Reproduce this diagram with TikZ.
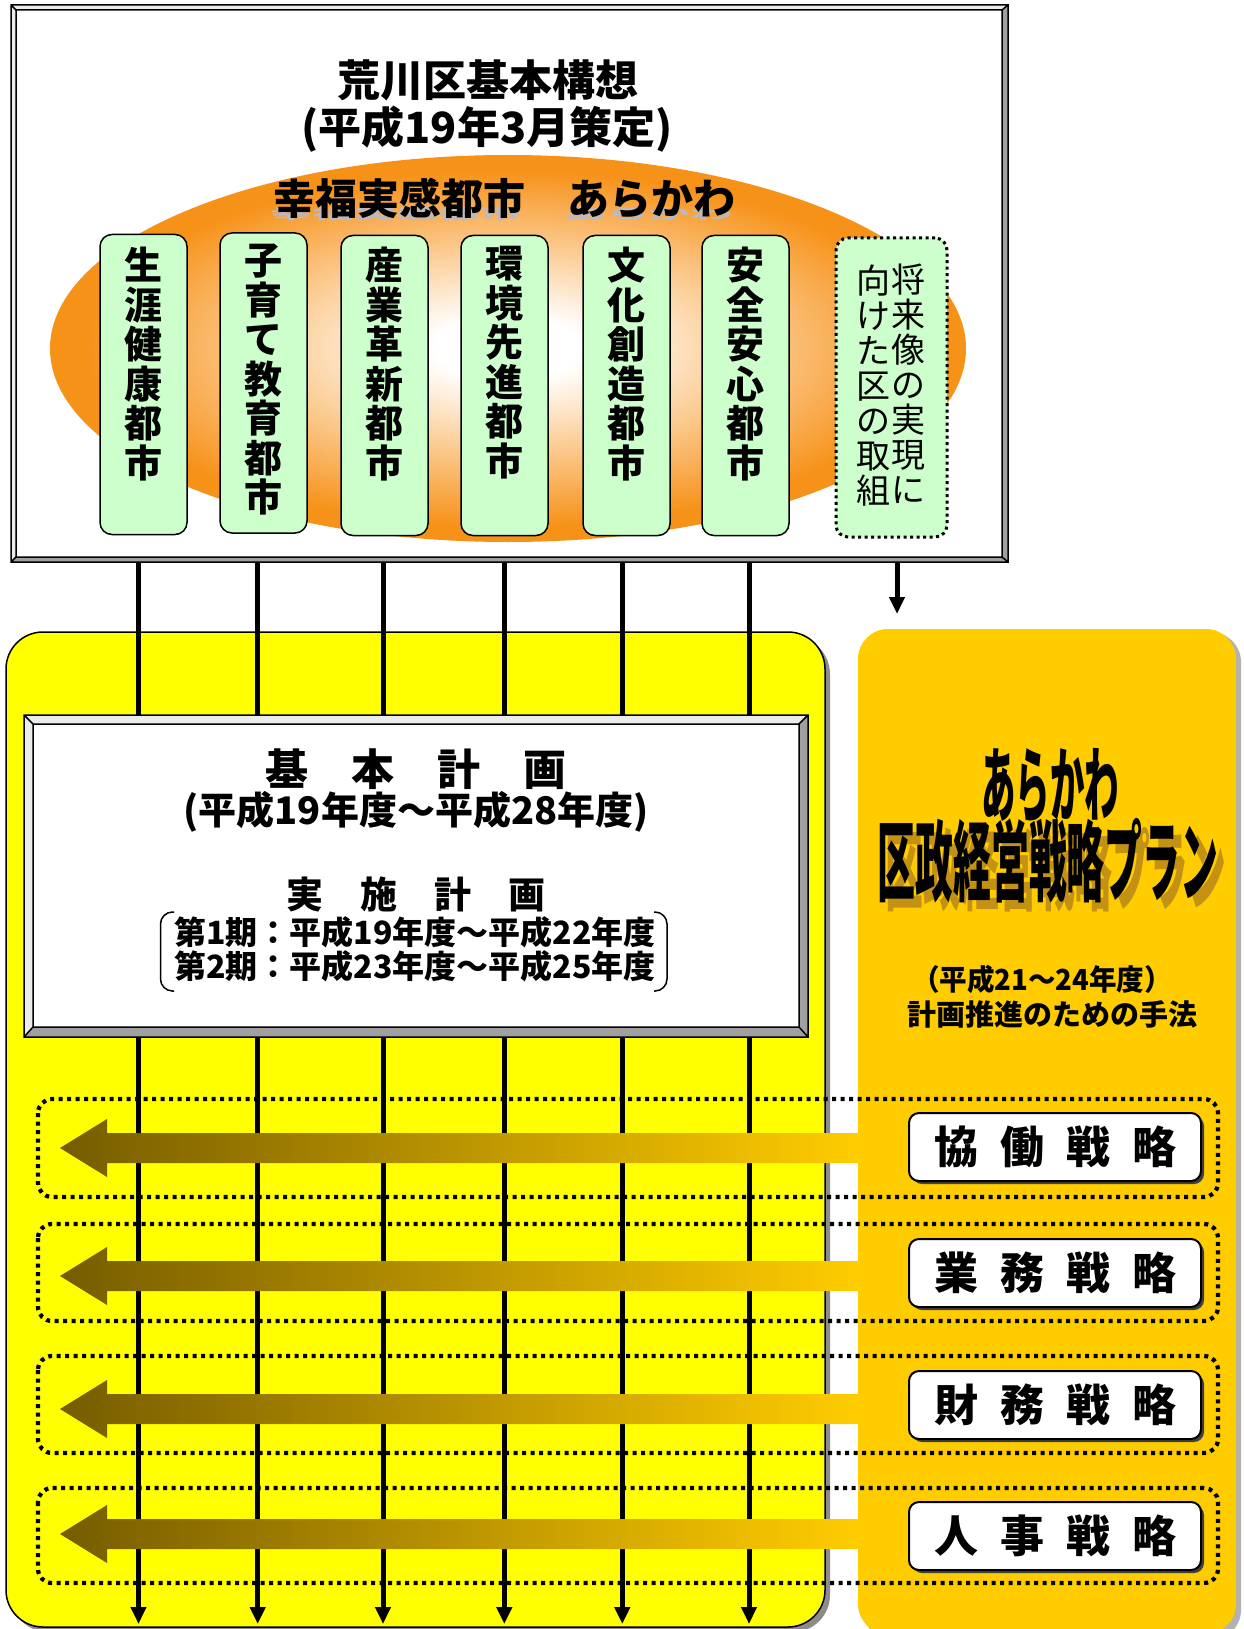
\documentclass[tikz,border=0pt]{standalone}
\usepackage{fontspec}
\newfontfamily\jp{Noto Sans CJK JP}
\usetikzlibrary{arrows.meta}
\definecolor{ora}{RGB}{247,146,25}
\definecolor{grn}{RGB}{204,255,204}
\definecolor{yel}{RGB}{255,255,0}
\definecolor{gold}{RGB}{255,204,0}
\definecolor{darkol}{RGB}{118,92,0}
\definecolor{bevdark}{RGB}{160,160,160}
\definecolor{bevlight}{RGB}{235,235,235}
\definecolor{brshadow}{RGB}{195,145,20}
\definecolor{tshadow}{RGB}{190,185,190}
\pgfdeclareradialshading{ellsh}{\pgfpoint{0bp}{0bp}}{color(0bp)=(white); color(4bp)=(white); color(23bp)=(ora); color(50bp)=(ora)}
\newcommand\bevelbox[8]{%
  \fill[bevlight] (#1,#4) -- (#1,#2) -- (#3,#2) -- (#7,#6) -- (#5,#6) -- (#5,#8) -- cycle;
  \fill[bevdark] (#3,#2) -- (#3,#4) -- (#1,#4) -- (#5,#8) -- (#7,#8) -- (#7,#6) -- cycle;
  \fill[white] (#5,#6) rectangle (#7,#8);
  \draw[line width=1.5pt] (#1,#2) rectangle (#3,#4) (#5,#6) rectangle (#7,#8)
     (#1,#2) -- (#5,#6) (#3,#2) -- (#7,#6) (#3,#4) -- (#7,#8) (#1,#4) -- (#5,#8);
}
\newcommand\garrow[1]{%
  \shade[left color=darkol, right color=gold]
   (858,{#1-15}) -- (107,{#1-15}) -- (107,{#1-29}) -- (60,#1) -- (107,{#1+29}) -- (107,{#1+15}) -- (858,{#1+15}) -- cycle;
}
\begin{document}
\begin{tikzpicture}[x=1pt,y=-1pt,
  gbox/.style={draw, line width=1.5pt, fill=grn, rounded corners=12pt, minimum width=87pt, minimum height=300pt, inner sep=0pt},
  vtxt/.style={align=center, inner sep=0pt, anchor=north, font=\jp\bfseries\fontsize{38}{39.5}\selectfont},
  vtxtr/.style={align=center, inner sep=0pt, font=\jp\fontsize{34}{35}\selectfont},
  vline/.style={line width=5pt, -{Triangle[length=17pt,width=15pt]}},
  dotrow/.style={line width=4.2pt, dash pattern=on 4pt off 4.5pt, rounded corners=14pt},
  lbl/.style={draw, line width=2pt, fill=white, rounded corners=10pt, minimum width=292pt, minimum height=68pt, inner sep=0pt, font=\jp\bfseries\fontsize{44}{50}\selectfont},
  txt/.style={inner sep=0pt}
]
\useasboundingbox (0,0) rectangle (1243,1629);
\fill[white] (0,0) rectangle (1243,1629);

% ---- lower areas
\fill[black!45, rounded corners=37pt] (11,637) rectangle (830,1632);
\node[draw, line width=1.5pt, fill=yel, rounded corners=37pt, minimum width=819pt, minimum height=995pt, inner sep=0pt] (yarea) at (415.5,1129.5) {};
\fill[black!30, rounded corners=30pt] (863,632) rectangle (1241,1640);
\node[fill=gold, rounded corners=30pt, minimum width=378pt, minimum height=1005pt, inner sep=0pt] (oarea) at (1047,1131.5) {};

% ---- vertical connectors
\coordinate (s1) at (138.5,562); \coordinate (e1) at (138.5,1624);
\coordinate (s2) at (257.7,562); \coordinate (e2) at (257.7,1624);
\coordinate (s3) at (383,562);   \coordinate (e3) at (383,1624);
\coordinate (s4) at (504.3,562); \coordinate (e4) at (504.3,1624);
\coordinate (s5) at (622.3,562); \coordinate (e5) at (622.3,1624);
\coordinate (s6) at (749,562);   \coordinate (e6) at (749,1624);
\coordinate (s7) at (897,562);   \coordinate (e7) at (897,614);
\foreach \i in {1,...,7} {\draw[vline] (s\i) -- (e\i);}

% ---- top frame
\bevelbox{11}{5}{1008}{562}{16}{10}{1002}{557}
\shade[shading=ellsh] (508,348.5) ellipse [x radius=458pt, y radius=193.5pt];

\node[txt, font=\jp\bfseries\fontsize{43}{48}\selectfont] (t1) at (488,80) {荒川区基本構想};
\node[txt, font=\jp\bfseries\fontsize{43}{48}\selectfont] (t2) at (487,129) {(平成19年3月策定)};
\node[txt, text=tshadow, font=\jp\bfseries\fontsize{42}{48}\selectfont] (t3s) at (501,214) {\scalebox{1}[0.35]{幸福実感都市　あらかわ}};
\node[txt, font=\jp\bfseries\fontsize{42}{48}\selectfont] (t3) at (504,198) {幸福実感都市　あらかわ};

\node[gbox] (g1) at (143.5,384.5) {};
\node[gbox] (g2) at (263.5,383) {};
\node[gbox] (g3) at (384.5,385.5) {};
\node[gbox] (g4) at (504.5,385.5) {};
\node[gbox] (g5) at (626.5,385.5) {};
\node[gbox] (g6) at (745.5,385.5) {};
\node[gbox, dash pattern=on 3pt off 3.5pt, line width=3pt, minimum width=111pt, minimum height=299pt] (g7) at (891.5,387.5) {};

\node[vtxt] (v1) at (143.5,247) {生\\涯\\健\\康\\都\\市};
\node[vtxt] (v2) at (263.5,244) {子\\育\\て\\教\\育\\都\\市};
\node[vtxt] (v3) at (384.5,247) {産\\業\\革\\新\\都\\市};
\node[vtxt] (v4) at (504.5,246) {環\\境\\先\\進\\都\\市};
\node[vtxt] (v5) at (626.5,247) {文\\化\\創\\造\\都\\市};
\node[vtxt] (v6) at (745.5,247) {安\\全\\安\\心\\都\\市};
\node[vtxtr] (v7a) at (908,384) {将\\来\\像\\の\\実\\現\\に};
\node[vtxtr] (v7b) at (873,386) {向\\け\\た\\区\\の\\取\\組};

% ---- basic plan box
\bevelbox{24}{715}{808}{1037}{33}{724}{799}{1027}
\node[txt, font=\jp\bfseries\fontsize{43}{48}\selectfont] (p1) at (416,769) {基　本　計　画};
\node[txt, font=\jp\bfseries\fontsize{38}{42}\selectfont] (p2) at (416,812) {(平成19年度～平成28年度)};
\node[txt, font=\jp\bfseries\fontsize{37}{42}\selectfont] (p3) at (416,894) {実　施　計　画};
\node[txt, font=\jp\bfseries\fontsize{32}{36}\selectfont] (p4) at (415,932) {第1期：平成19年度～平成22年度};
\node[txt, font=\jp\bfseries\fontsize{32}{36}\selectfont] (p5) at (415,966) {第2期：平成23年度～平成25年度};
\draw[line width=1.5pt, rounded corners=12pt] (174,912) -- (160.5,912) -- (160.5,991) -- (174,991);
\draw[line width=1.5pt, rounded corners=12pt] (654,912) -- (667,912) -- (667,991) -- (654,991);

% ---- strategy arrows and rows
\garrow{1148}
\garrow{1276}
\garrow{1409}
\garrow{1534}
\draw[dotrow] (38,1099) rectangle (1218,1197);
\draw[dotrow] (38,1224) rectangle (1218,1321);
\draw[dotrow] (38,1356) rectangle (1218,1453);
\draw[dotrow] (38,1488) rectangle (1218,1583);

\fill[black!75, rounded corners=10pt] (912,1116) rectangle (1204,1184);
\fill[black!75, rounded corners=10pt] (912,1242) rectangle (1204,1310);
\fill[black!75, rounded corners=10pt] (912,1374) rectangle (1204,1442);
\fill[black!75, rounded corners=10pt] (912,1505) rectangle (1204,1573);
\node[lbl] (k1) at (1055,1147) {協\hspace{22pt}働\hspace{22pt}戦\hspace{22pt}略};
\node[lbl] (k2) at (1055,1273) {業\hspace{22pt}務\hspace{22pt}戦\hspace{22pt}略};
\node[lbl] (k3) at (1055,1405) {財\hspace{22pt}務\hspace{22pt}戦\hspace{22pt}略};
\node[lbl] (k4) at (1055,1536) {人\hspace{22pt}事\hspace{22pt}戦\hspace{22pt}略};

% ---- orange area text
\node[txt, font=\jp\bfseries\fontsize{82}{84}\selectfont] (o1) at (1050,786) {\scalebox{0.42}[1]{あらかわ}};
\node[txt, text=brshadow, font=\jp\bfseries\fontsize{88}{90}\selectfont] (o2s) at (1056,870) {\scalebox{0.43}[1]{区政経営戦略プラン}};
\node[txt, font=\jp\bfseries\fontsize{88}{90}\selectfont] (o2) at (1048,861) {\scalebox{0.43}[1]{区政経営戦略プラン}};
\node[txt, font=\jp\bfseries\fontsize{29}{33}\selectfont] (o3) at (1042,979) {\scalebox{0.95}[1]{（平成21～24年度）}};
\node[txt, font=\jp\bfseries\fontsize{29}{33}\selectfont] (o4) at (1052,1014) {計画推進のための手法};
\end{tikzpicture}
\end{document}
